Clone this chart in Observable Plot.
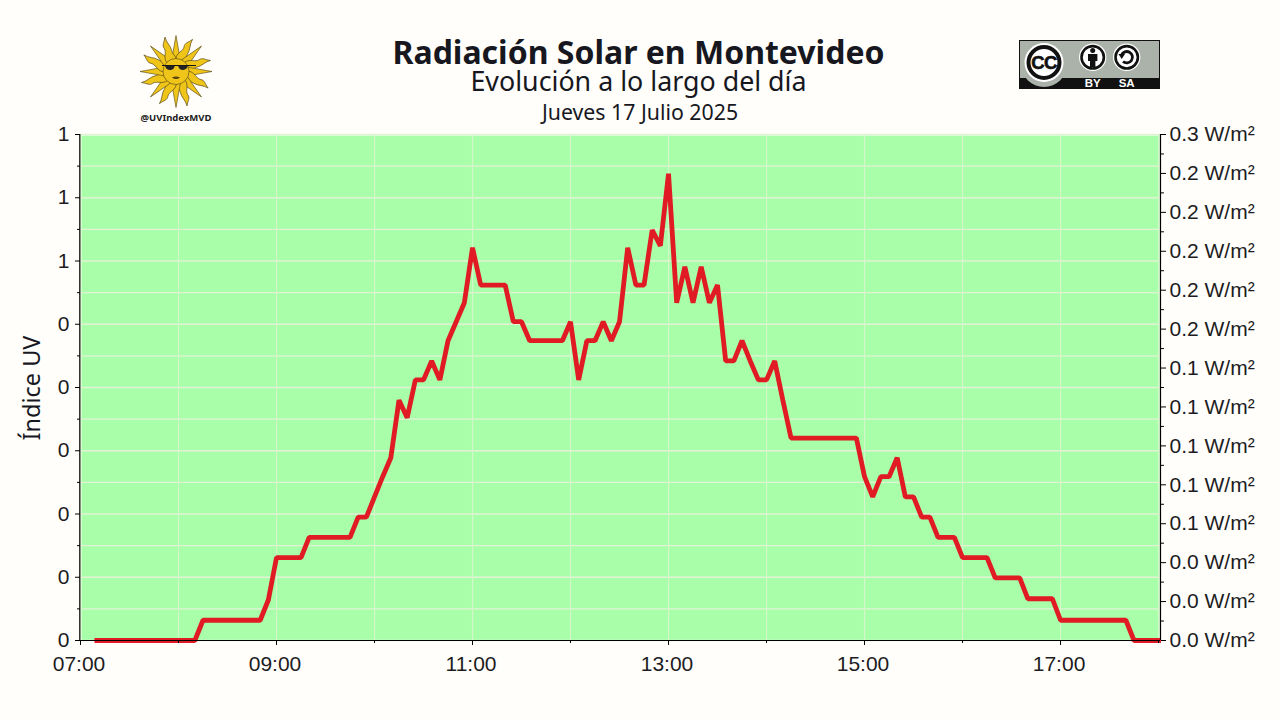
<!DOCTYPE html>
<html><head><meta charset="utf-8">
<script src="https://cdn.jsdelivr.net/npm/d3@7"></script>
<script src="https://cdn.jsdelivr.net/npm/@observablehq/plot@0.6"></script>
<style>
html,body{margin:0;padding:0;background:#fffefa;width:1280px;height:720px;overflow:hidden}
#chart{position:absolute;left:0;top:0}
#chart svg{display:block;background:transparent}
.t{position:absolute;left:0;width:1277px;text-align:center;font-family:"Noto Sans",sans-serif;color:#17171f;white-space:nowrap;line-height:1}
#ylab{position:absolute;left:31px;top:388px;transform:translate(-50%,-50%) rotate(-90deg);font:23.5px "Noto Sans",sans-serif;color:#17171f;white-space:nowrap}
#deco{position:absolute;left:0;top:0}
</style></head><body>
<div id="chart"></div>
<div class="t" style="top:36px;font-size:32px;font-weight:700">Radiación Solar en Montevideo</div>
<div class="t" style="top:68px;font-size:26.8px">Evolución a lo largo del día</div>
<div class="t" style="top:101px;left:1.5px;font-size:21.3px">Jueves 17 Julio 2025</div>
<div id="ylab">Índice UV</div>
<svg id="deco" width="1280" height="720"></svg>
<script>
const times = ["07:10","07:15","07:20","07:25","07:30","07:35","07:40","07:45","07:50","07:55",
"08:00","08:05","08:10","08:15","08:20","08:25","08:30","08:35","08:40","08:45","08:50","08:55",
"09:00","09:05","09:10","09:15","09:20","09:25","09:30","09:35","09:40","09:45","09:50","09:55",
"10:00","10:05","10:10","10:15","10:20","10:25","10:30","10:35","10:40","10:45","10:50","10:55",
"11:00","11:05","11:10","11:15","11:20","11:25","11:30","11:35","11:40","11:45","11:50","11:55",
"12:00","12:05","12:10","12:15","12:20","12:25","12:30","12:35","12:40","12:45","12:50","12:55",
"13:00","13:05","13:10","13:15","13:20","13:25","13:30","13:35","13:40","13:45","13:50","13:55",
"14:00","14:05","14:10","14:15","14:20","14:25","14:30","14:35","14:40","14:45","14:50","14:55",
"15:00","15:05","15:10","15:15","15:20","15:25","15:30","15:35","15:40","15:45","15:50","15:55",
"16:00","16:05","16:10","16:15","16:20","16:25","16:30","16:35","16:40","16:45","16:50","16:55",
"17:00","17:05","17:10","17:15","17:20","17:25","17:30","17:35","17:40","17:45","17:50","17:55","18:00"];
const uv = [0,0,0,0,0,0,0,0,0,0,
0,0,0,.032,.032,.032,.032,.032,.032,.032,.032,.064,
.131,.131,.131,.131,.163,.163,.163,.163,.163,.163,.195,.195,
.227,.259,.289,.380,.352,.412,.412,.442,.412,.474,.504,.534,
.621,.562,.562,.562,.562,.504,.504,.474,.474,.474,.474,.474,
.504,.412,.474,.474,.504,.474,.504,.621,.562,.562,.649,.624,
.738,.534,.591,.534,.591,.534,.562,.442,.442,.474,.442,.412,
.412,.442,.380,.320,.320,.320,.320,.320,.320,.320,.320,.320,
.259,.227,.259,.259,.289,.227,.227,.195,.195,.163,.163,.163,
.131,.131,.131,.131,.099,.099,.099,.099,.066,.066,.066,.066,
.032,.032,.032,.032,.032,.032,.032,.032,.032,0,0,0,0];
const hoursMajor = ["07:00","09:00","11:00","13:00","15:00","17:00"];
const hoursMinor = ["08:00","10:00","12:00","14:00","16:00","18:00"];
const leftTicks = [0,.1,.2,.3,.4,.5,.6,.7,.8];
const leftLabels = ["0","0","0","0","0","0","1","1","1"];
const leftMinor = [.05,.15,.25,.35,.45,.55,.65,.75];
const rightTicks = [0,.02,.04,.06,.08,.10,.12,.14,.16,.18,.20,.22,.24,.26];
const rightLabels = ["0.0","0.0","0.0","0.1","0.1","0.1","0.1","0.1","0.2","0.2","0.2","0.2","0.2","0.3"];
const rightMinor = [.01,.03,.05,.07,.09,.11,.13,.15,.17,.19,.21,.23,.25];

const T = s => new Date(`2025-07-17T${s}:00Z`);
const xEnd = new Date("2025-07-17T18:01:12Z");
const rows = times.map((t,i)=>({t:T(t),v:uv[i]}));
const R = v => v*0.8/0.26;
const ink = "#000", fs = 21;
const gridH = "#e3f2d6", gridV = "#d6f5ca";

const plot = Plot.plot({
  width:1280,height:720,marginLeft:80,marginRight:120,marginTop:134,marginBottom:80,
  style:{fontFamily:'"Liberation Sans",sans-serif',background:"transparent",color:"#1c1c22",overflow:"visible"},
  x:{type:"utc",domain:[T("07:00"),xEnd]},
  y:{domain:[0,.8]},
  marks:[
    Plot.frame({fill:"#a9ffa9",stroke:null,insetLeft:1,insetRight:1,insetTop:1}),
    Plot.ruleY(leftMinor,{stroke:gridH,strokeWidth:1.3,insetLeft:1}),
    Plot.ruleY(leftTicks,{stroke:gridH,strokeWidth:1.5,insetLeft:1}),
    Plot.ruleX([...hoursMajor,...hoursMinor].map(T),{stroke:gridV,strokeWidth:1.1}),
    Plot.line(rows,{x:"t",y:"v",stroke:"#e01b24",strokeWidth:4.8,strokeLinejoin:"bevel",strokeLinecap:"square"}),
    Plot.ruleY([0],{stroke:ink,strokeWidth:1.2}),
    Plot.ruleX([T("07:00")],{stroke:ink,strokeWidth:1.2,dx:-0.7}),
    Plot.ruleX([xEnd],{stroke:ink,strokeWidth:1.2}),
    Plot.axisX(hoursMajor.map(T),{anchor:"bottom",tickSize:0,tickPadding:16,dx:-1.5,fontSize:fs,label:null,tickFormat:d3.utcFormat("%H:%M")}),
    Plot.axisX(hoursMajor.map(T),{anchor:"bottom",tickSize:5,tickFormat:()=>"",label:null,stroke:ink}),
    Plot.axisX(hoursMinor.map(T),{anchor:"bottom",tickSize:3,tickFormat:()=>"",label:null,stroke:ink}),
    Plot.axisY(leftTicks,{anchor:"left",tickSize:5,tickPadding:6,fontSize:fs,label:null,tickFormat:(d,i)=>leftLabels[i],stroke:ink}),
    Plot.axisY(leftMinor,{anchor:"left",tickSize:3,tickFormat:()=>"",label:null,stroke:ink}),
    Plot.axisY(rightTicks.map(R),{anchor:"right",tickSize:5,tickPadding:4,fontSize:fs,label:null,tickFormat:(d,i)=>rightLabels[i]+" W/m²",stroke:ink}),
    Plot.axisY(rightMinor.map(R),{anchor:"right",tickSize:3,tickFormat:()=>"",label:null,stroke:ink})
  ]
});
document.getElementById("chart").append(plot);

/* logo: sun */
const deco = d3.select("#deco");
const sun = deco.append("g").attr("transform","translate(176,71.5)");
const Y="#efc51a", S="#4f4110";
for(let k=0;k<16;k++){
  const g=sun.append("g").attr("transform",`rotate(${k*22.5})`);
  if(k%2===0) g.append("path").attr("d","M-4.5,-11 L0,-36 L4.5,-11 Z").attr("fill",Y).attr("stroke",S).attr("stroke-width",.6);
  else g.append("path").attr("d","M-5,-11 C-7,-18 -1,-21 -2,-26 C-3,-30 0,-31 3,-36 C2,-30 5,-26 4,-21 C3,-17 6,-15 5,-11 Z").attr("fill",Y).attr("stroke",S).attr("stroke-width",.6);
}
sun.append("circle").attr("r",13).attr("fill",Y).attr("stroke",S).attr("stroke-width",.6);
sun.append("path").attr("d","M-14,-6 H20").attr("stroke","#111").attr("stroke-width",1.2);
sun.append("path").attr("d","M-11,-6 Q-10,-1 -5,-1.5 Q-2,-2 -1,-6 Z M2,-6 Q3,-1.5 7,-1.5 Q11,-2 12,-6 Z").attr("fill","#222");
sun.append("path").attr("d","M-4,6 Q0,4 4,6 Q0,9 -4,6 Z").attr("fill","#5b3f10");
deco.append("text").attr("x",176).attr("y",121).attr("text-anchor","middle").attr("font-family","Noto Sans").attr("font-weight",700).attr("font-size",9.5).attr("fill","#1c1c1c").text("@UVIndexMVD");

/* badge */
const b = deco.append("g").attr("transform","translate(1019,40)");
b.append("rect").attr("width",141).attr("height",49).attr("fill","#111");
b.append("rect").attr("x",1).attr("y",1).attr("width",139).attr("height",37).attr("fill","#aab2a9");
b.append("circle").attr("cx",25).attr("cy",24).attr("r",23).attr("fill","#aab2a9");
b.append("circle").attr("cx",25).attr("cy",22.5).attr("r",19.5).attr("fill","#fff");
b.append("circle").attr("cx",25).attr("cy",22.5).attr("r",15.5).attr("fill","#fff").attr("stroke","#111").attr("stroke-width",4);
b.append("text").attr("x",25).attr("y",29).attr("text-anchor","middle").attr("font-family","Liberation Sans").attr("font-weight",700).attr("font-size",18.5).attr("stroke","#111").attr("stroke-width",.6).attr("fill","#111").attr("letter-spacing",-.5).text("CC");
for(const cx of [73.7,107.7]){
  b.append("circle").attr("cx",cx).attr("cy",17.3).attr("r",13.7).attr("fill","#fff");
  b.append("circle").attr("cx",cx).attr("cy",17.3).attr("r",11.2).attr("fill","#fff").attr("stroke","#111").attr("stroke-width",2.6);
}
b.append("circle").attr("cx",73.7).attr("cy",10.5).attr("r",2.5).attr("fill","#111");
b.append("path").attr("d","M69,14 H78.4 V21 H76.4 V27 H71 V21 H69 Z").attr("fill","#111");
b.append("path").attr("d","M102.5,15 A5.7,5.7 0 1 1 104,21.5").attr("fill","none").attr("stroke","#111").attr("stroke-width",2.8);
b.append("path").attr("d","M99.5,14 L106,14 L102.7,19 Z").attr("fill","#111");
for(const [x,s] of [[73.7,"BY"],[107.7,"SA"]]) b.append("text").attr("x",x).attr("y",46.5).attr("text-anchor","middle").attr("font-family","Liberation Sans").attr("font-weight",700).attr("font-size",11.5).attr("fill","#fff").text(s);
</script>
</body></html>
